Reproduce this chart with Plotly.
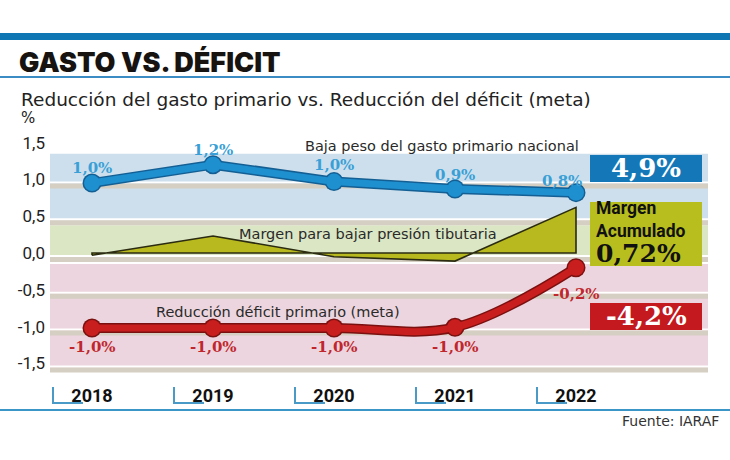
import plotly.graph_objects as go

# ---------------- data ----------------
years = [2018, 2019, 2020, 2021, 2022]
gasto = [0.95, 1.20, 0.97, 0.87, 0.82]          # Baja peso del gasto primario nacional
deficit = [-1.02, -1.02, -1.02, -1.01, -0.20]   # Reducción déficit primario (meta)
margen = [-0.03, 0.23, -0.05, -0.11, 0.62]      # Margen para bajar presión tributaria
gasto_labels = ["1,0%", "1,2%", "1,0%", "0,9%", "0,8%"]
deficit_labels = ["-1,0%", "-1,0%", "-1,0%", "-1,0%", "-0,2%"]
ytick_vals = [1.5, 1.0, 0.5, 0.0, -0.5, -1.0, -1.5]
ytick_text = ["1,5", "1,0", "0,5", "0,0", "-0,5", "-1,0", "-1,5"]
total_gasto = "4,9%"
total_margen = "0,72%"
total_deficit = "-4,2%"

# ---------------- layout geometry ----------------
W, H = 730, 460
ML, MR, MT, MB = 50, 22, 140, 80
PW, PH = W - ML - MR, H - MT - MB
Y0_PX = 253          # pixel of value 0
SCALE = 73.6         # px per unit
YMAX = (Y0_PX - MT) / SCALE
YMIN = -(MT + PH - Y0_PX) / SCALE
X_PX0, X_STEP = 92, 121
XMIN = years[0] - (X_PX0 - ML) / X_STEP
XMAX = XMIN + PW / X_STEP


def px(x):  # pixel x -> paper
    return (x - ML) / PW


def py(y):  # pixel y -> paper
    return (MT + PH - y) / PH


def dv(val, px_below):
    return val - px_below / SCALE


BLUE = "#1e8fcf"
BLUE_D = "#135f94"
RED = "#c81e1e"
RED_D = "#7a1010"
OLIVE = "#b7b91e"
TXT = "#2a2a2a"

fig = go.Figure()

shapes = []
# background bands
shapes.append(dict(type="rect", xref="paper", yref="y", x0=0, x1=px(708),
                   y0=dv(0.5, 4), y1=1.35, fillcolor="#cddfec", line_width=0, layer="below"))
shapes.append(dict(type="rect", xref="paper", yref="y", x0=0, x1=px(708),
                   y0=dv(0.0, 4), y1=dv(0.5, 9), fillcolor="#dbe6c4", line_width=0, layer="below"))
shapes.append(dict(type="rect", xref="paper", yref="y", x0=0, x1=px(708),
                   y0=dv(-1.5, 4), y1=dv(0.0, 11), fillcolor="#ecd5de", line_width=0, layer="below"))
# grid stripes
for v in ytick_vals[1:]:
    shapes.append(dict(type="rect", xref="paper", yref="y", ysizemode="pixel", yanchor=v,
                       x0=0, x1=px(708), y0=-4, y1=-2, fillcolor="#ffffff", line_width=0, layer="below"))
    shapes.append(dict(type="rect", xref="paper", yref="y", ysizemode="pixel", yanchor=v,
                       x0=0, x1=px(708), y0=-9, y1=-4, fillcolor="#d5cec2", line_width=0, layer="below"))

# header bars & rules
shapes.append(dict(type="rect", xref="paper", yref="paper", x0=px(0), x1=px(730),
                   y0=py(40), y1=py(33), fillcolor="#0e76b3", line_width=0))
shapes.append(dict(type="line", xref="paper", yref="paper", x0=px(0), x1=px(730),
                   y0=py(77), y1=py(77), line=dict(color="#3b8cc4", width=2)))
shapes.append(dict(type="line", xref="paper", yref="paper", x0=px(0), x1=px(730),
                   y0=py(410), y1=py(410), line=dict(color="#3b96c8", width=2)))

# year brackets
for yr in years:
    shapes.append(dict(type="path", xref="x", yref="paper", xsizemode="pixel", ysizemode="pixel",
                       xanchor=yr, yanchor=0,
                       path="M -39,-7 L -39,-23 L -9,-23",
                       line=dict(color="#4a9ac8", width=2)))

# right-side total boxes
shapes.append(dict(type="rect", xref="paper", yref="paper", x0=px(590), x1=px(702),
                   y0=py(182), y1=py(155), fillcolor="#1478b8", line_width=0))
shapes.append(dict(type="rect", xref="paper", yref="paper", x0=px(590), x1=px(702),
                   y0=py(266), y1=py(202), fillcolor="#b8be1e", line_width=0))
shapes.append(dict(type="rect", xref="paper", yref="paper", x0=px(590), x1=px(702),
                   y0=py(330), y1=py(303), fillcolor="#c3191f", line_width=0))

# ---------------- traces ----------------
# margin polygon (closed on the zero baseline)
poly_x = years + [years[-1], years[0], years[0]]
poly_y = margen + [0, 0, margen[0]]
fig.add_trace(go.Scatter(x=poly_x, y=poly_y, mode="lines", fill="toself",
                         fillcolor=OLIVE, line=dict(color="#2b2b12", width=1.6),
                         hoverinfo="skip", showlegend=False))

# gasto line
fig.add_trace(go.Scatter(x=years, y=gasto, mode="lines+markers",
                         line=dict(color=BLUE_D, width=10), marker=dict(size=19, color=BLUE_D),
                         hoverinfo="skip", showlegend=False))
fig.add_trace(go.Scatter(x=years, y=gasto, mode="lines+markers",
                         line=dict(color=BLUE, width=7), marker=dict(size=16, color=BLUE),
                         showlegend=False))

# deficit line
fig.add_trace(go.Scatter(x=years, y=deficit, mode="lines+markers",
                         line=dict(color=RED_D, width=10, shape="spline"),
                         marker=dict(size=19, color=RED_D),
                         hoverinfo="skip", showlegend=False))
fig.add_trace(go.Scatter(x=years, y=deficit, mode="lines+markers",
                         line=dict(color=RED, width=7, shape="spline"),
                         marker=dict(size=16, color=RED), showlegend=False))

# ---------------- annotations ----------------
ann = []
serif = "DejaVu Serif"
gx_shift = [0, 0, 0, 0, -14]
gy_shift = [15, 15, 17, 14, 12]
for yr, v, t, xs, ys in zip(years, gasto, gasto_labels, gx_shift, gy_shift):
    ann.append(dict(x=yr, y=v, xref="x", yref="y", text=t, showarrow=False,
                    xshift=xs, yshift=ys, xanchor="center", yanchor="middle",
                    font=dict(family=serif, size=15, color="#3a9fd6", weight="bold")))
dy_shift = [-19, -19, -19, -20, -26]
for yr, v, t, ys in zip(years, deficit, deficit_labels, dy_shift):
    ann.append(dict(x=yr, y=v, xref="x", yref="y", text=t, showarrow=False,
                    yshift=ys, xanchor="center", yanchor="middle",
                    font=dict(family=serif, size=15, color="#c0272d", weight="bold")))

sans = "DejaVu Sans"


def txt(xp, yp, text, font, xanchor="center", align="center"):
    return dict(x=px(xp), y=py(yp), xref="paper", yref="paper", text=text, showarrow=False,
                xanchor=xanchor, yanchor="middle", align=align, font=font)


ann += [
    txt(442, 146, "Baja peso del gasto primario nacional", dict(family=sans, size=14.5, color=TXT)),
    txt(368, 234, "Margen para bajar presión tibutaria", dict(family=sans, size=14.5, color=TXT)),
    txt(278, 312, "Reducción déficit primario (meta)", dict(family=sans, size=14.5, color=TXT)),
    # totals
    txt(646, 168, total_gasto, dict(family=serif, size=26, color="white", weight="bold")),
    txt(594, 219, "Margen<br>Acumulado",
        dict(family="Roboto", size=17.5, color="#111", weight="bold"), "left", "left"),
    txt(594, 253, total_margen, dict(family=serif, size=25, color="#111", weight="bold"), "left"),
    txt(646, 316, total_deficit, dict(family=serif, size=26, color="white", weight="bold")),
    # headers
    txt(17, 62, "GASTO VS. DÉFICIT", dict(family="Inter", size=27, color="#161310", weight=900), "left"),
    txt(19, 100, "Reducción del gasto primario vs. Reducción del déficit (meta)",
        dict(family=sans, size=18.5, color="#222"), "left"),
    txt(19, 118, "%", dict(family=sans, size=15, color="#222"), "left"),
    txt(721, 421, "Fuente: IARAF", dict(family=sans, size=14, color="#333"), "right"),
]

fig.update_layout(
    width=W, height=H,
    margin=dict(l=ML, r=MR, t=MT, b=MB),
    paper_bgcolor="white", plot_bgcolor="white",
    shapes=shapes, annotations=ann, showlegend=False,
    xaxis=dict(range=[XMIN, XMAX], tickvals=years, ticktext=[str(y) for y in years],
               showgrid=False, zeroline=False, showline=False, ticks="",
               ticklabelstandoff=3,
               tickfont=dict(family="Roboto", size=18, color="#111", weight="bold")),
    yaxis=dict(range=[YMIN, YMAX], tickvals=ytick_vals, ticktext=ytick_text,
               showgrid=False, zeroline=False, showline=False, ticks="",
               ticklabelstandoff=4,
               tickfont=dict(family="Roboto", size=17, color="#222")),
)

fig.write_html("out.html")
